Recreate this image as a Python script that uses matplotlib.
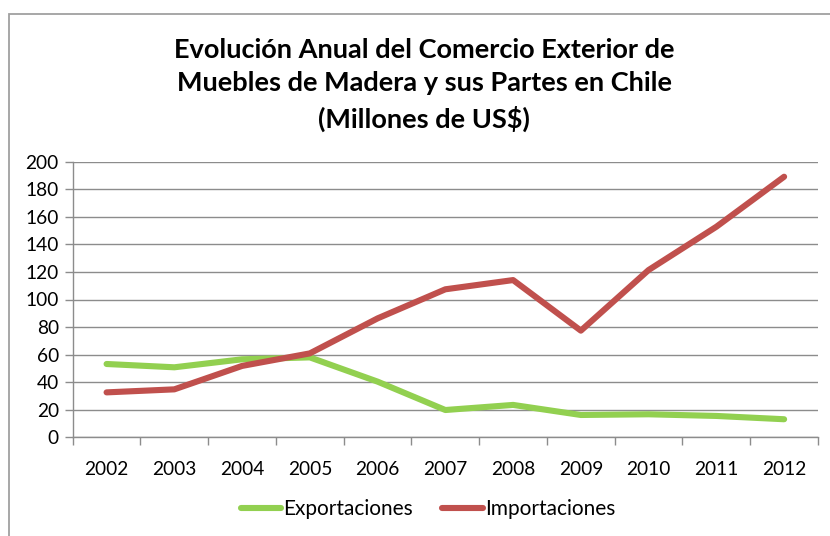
import matplotlib.pyplot as plt
from matplotlib.patches import Rectangle
from matplotlib.ticker import FixedLocator, MultipleLocator

plt.rcParams['font.family'] = ['Lato', 'DejaVu Sans']

years = ['2002', '2003', '2004', '2005', '2006', '2007',
         '2008', '2009', '2010', '2011', '2012']
exportaciones = [53.2, 50.8, 56.6, 58.0, 40.4, 19.8, 23.5, 16.2, 16.7, 15.5, 13.1]
importaciones = [32.6, 34.8, 51.8, 60.9, 86.3, 107.4, 114.1, 77.4, 121.4, 152.8, 189.1]

W, H = 830, 536
fig = plt.figure(figsize=(W / 100, H / 100), dpi=100)

# outer chart frame, cut off at the right and bottom edges
fig.patches.append(Rectangle((9 / W, -0.1), 1.2, 1 - 14 / H + 0.1,
                             transform=fig.transFigure, fill=False,
                             edgecolor='#a0a0a0', linewidth=1.3))

ax = fig.add_axes([72.7 / W, 1 - 437.3 / H, 745.3 / W, 275.6 / H])
x = range(len(years))
ax.plot(x, exportaciones, color='#92D050', linewidth=4.4,
        solid_capstyle='round', solid_joinstyle='round', label='Exportaciones')
ax.plot(x, importaciones, color='#C0504D', linewidth=4.4,
        solid_capstyle='round', solid_joinstyle='round', label='Importaciones')

ax.set_xlim(-0.5, len(years) - 0.5)
ax.set_ylim(0, 200)
ax.yaxis.set_major_locator(MultipleLocator(20))
ax.grid(axis='y', color='#8c8c8c', linewidth=1)
ax.set_axisbelow(True)

# category boundaries get the tick marks, centres get the labels
ax.xaxis.set_major_locator(FixedLocator([i - 0.5 for i in range(len(years) + 1)]))
ax.xaxis.set_minor_locator(FixedLocator(list(x)))
ax.set_xticklabels([], minor=False)
ax.set_xticklabels(years, minor=True)
ax.tick_params(axis='x', which='major', length=6, color='#8c8c8c', width=1)
ax.tick_params(axis='x', which='minor', length=0, pad=17, labelsize=13.8)
ax.tick_params(axis='y', length=6, color='#8c8c8c', width=1, pad=4, labelsize=13.8)

for side in ('top', 'right'):
    ax.spines[side].set_visible(False)
for side in ('left', 'bottom'):
    ax.spines[side].set_color('#8c8c8c')
    ax.spines[side].set_linewidth(1)

fig.text(424 / W, 1 - 85 / H,
         'Evolución Anual del Comercio Exterior de\n'
         'Muebles de Madera y sus Partes en Chile\n'
         '(Millones de US$)',
         ha='center', va='center', fontsize=19.5, fontweight='bold',
         linespacing=1.45)

fig.legend(loc='center', bbox_to_anchor=(428 / W, 1 - 509 / H), ncol=2,
           frameon=False, fontsize=15, handlelength=1.95, handletextpad=0.1,
           columnspacing=1.4)

fig.savefig('out.png', dpi=100)
